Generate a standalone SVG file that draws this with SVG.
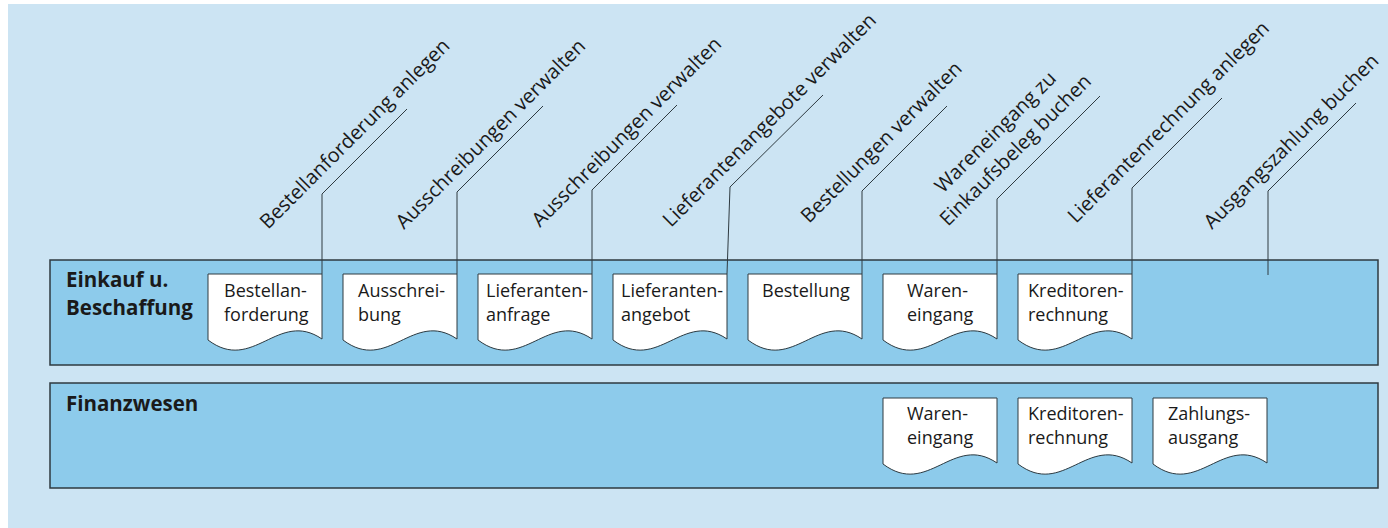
<svg xmlns="http://www.w3.org/2000/svg" width="1388" height="528" viewBox="0 0 1388 528">
<defs>
<style>
.bg{fill:#cce4f3}
.lane{fill:#8dcbeb;stroke:#2e3a40;stroke-width:1.5}
.doc{fill:#ffffff;stroke:#2e3a40;stroke-width:1}
.t{font-family:"Open Sans","Noto Sans",sans-serif;font-size:18px;fill:#1a1a1a}
.r{font-family:"Open Sans","Noto Sans",sans-serif;font-size:20px;fill:#1a1a1a}
.lt{font-family:"Open Sans","Noto Sans",sans-serif;font-size:20.5px;font-weight:bold;fill:#1a1a1a}
.c{fill:none;stroke:#2e3a40;stroke-width:1}
</style>
<path id="docshape" d="M0,0 H114 V65 C70,35 45,100 0,66 Z"/>
</defs>
<rect class="bg" x="8" y="4" width="1380" height="524"/>

<g id="lane-einkauf">
<rect class="lane" x="50" y="260" width="1328" height="105"/>
<text class="lt" x="66" y="287">Einkauf u.</text>
<text class="lt" x="66" y="315">Beschaffung</text>
</g>
<g id="lane-finanz">
<rect class="lane" x="50" y="383" width="1328" height="105"/>
<text class="lt" x="66" y="411">Finanzwesen</text>
</g>

<g id="connectors">
<path class="c" d="M322,274 V194 L407,109"/>
<path class="c" d="M457,274 V192 L543,106"/>
<path class="c" d="M592,274 V190 L677,105"/>
<path class="c" d="M727,274 L730,187 L823,95"/>
<path class="c" d="M862,274 V191 L947,106"/>
<path class="c" d="M997,274 V199 L1100,96"/>
<path class="c" d="M1132,274 V188 L1222,98"/>
<path class="c" d="M1268,275 V191 L1356,103"/>
</g>

<g id="label-1"><text class="r" transform="translate(268,230) rotate(-45)">Bestellanforderung anlegen</text></g>
<g id="label-2"><text class="r" transform="translate(404,230) rotate(-45)">Ausschreibungen verwalten</text></g>
<g id="label-3"><text class="r" transform="translate(540,228) rotate(-45)">Ausschreibungen verwalten</text></g>
<g id="label-4"><text class="r" transform="translate(671,228) rotate(-45)">Lieferantenangebote verwalten</text></g>
<g id="label-5"><text class="r" transform="translate(809,224) rotate(-45)">Bestellungen verwalten</text></g>
<g id="label-6"><text class="r" transform="translate(943,194) rotate(-45)">Wareneingang zu</text><text class="r" transform="translate(948,227) rotate(-45)">Einkaufsbeleg buchen</text></g>
<g id="label-7"><text class="r" transform="translate(1076,224) rotate(-45)">Lieferantenrechnung anlegen</text></g>
<g id="label-8"><text class="r" transform="translate(1212,230) rotate(-45)">Ausgangszahlung buchen</text></g>

<g id="doc-bestellanforderung"><use href="#docshape" class="doc" x="208" y="274"/><text class="t" x="224" y="297">Bestellan-</text><text class="t" x="224" y="321">forderung</text></g>
<g id="doc-ausschreibung"><use href="#docshape" class="doc" x="343" y="274"/><text class="t" x="358" y="297">Ausschrei-</text><text class="t" x="358" y="321">bung</text></g>
<g id="doc-lieferantenanfrage"><use href="#docshape" class="doc" x="478" y="274"/><text class="t" x="486" y="297">Lieferanten-</text><text class="t" x="486" y="321">anfrage</text></g>
<g id="doc-lieferantenangebot"><use href="#docshape" class="doc" x="613" y="274"/><text class="t" x="621" y="297">Lieferanten-</text><text class="t" x="621" y="321">angebot</text></g>
<g id="doc-bestellung"><use href="#docshape" class="doc" x="748" y="274"/><text class="t" x="762" y="297">Bestellung</text></g>
<g id="doc-wareneingang-1"><use href="#docshape" class="doc" x="883" y="274"/><text class="t" x="907" y="297">Waren-</text><text class="t" x="907" y="321">eingang</text></g>
<g id="doc-kreditorenrechnung-1"><use href="#docshape" class="doc" x="1018" y="274"/><text class="t" x="1028" y="297">Kreditoren-</text><text class="t" x="1028" y="321">rechnung</text></g>

<g id="doc-wareneingang-2"><use href="#docshape" class="doc" x="883" y="398"/><text class="t" x="907" y="420">Waren-</text><text class="t" x="907" y="444">eingang</text></g>
<g id="doc-kreditorenrechnung-2"><use href="#docshape" class="doc" x="1018" y="398"/><text class="t" x="1028" y="420">Kreditoren-</text><text class="t" x="1028" y="444">rechnung</text></g>
<g id="doc-zahlungsausgang"><use href="#docshape" class="doc" x="1153" y="398"/><text class="t" x="1168" y="420">Zahlungs-</text><text class="t" x="1168" y="444">ausgang</text></g>
</svg>
